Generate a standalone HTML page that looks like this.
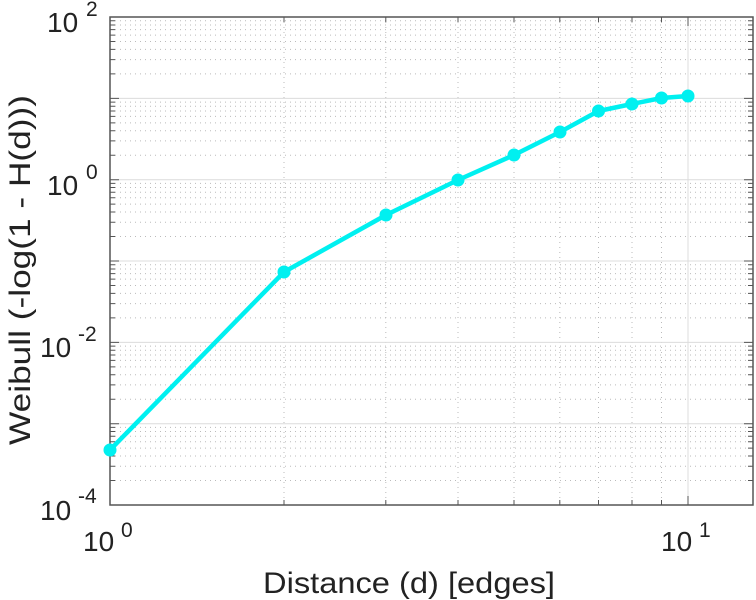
<!DOCTYPE html>
<html><head><style>body{margin:0;background:#fff}svg{display:block}</style></head><body>
<svg width="756" height="600" xmlns="http://www.w3.org/2000/svg" xmlns:xlink="http://www.w3.org/1999/xlink" font-family="Liberation Sans, sans-serif">
<rect width="756" height="600" fill="#fff"/>
<defs>
<g id="yd">
<path d="M110 -24.48H753M110 -38.8H753M110 -48.97H753M110 -56.85H753M110 -63.29H753M110 -68.73H753M110 -73.45H753M110 -77.61H753" stroke="#bbb" stroke-width="1" stroke-dasharray="1,4" fill="none"/>
<path d="M110 -24.48h5M110 -38.8h5M110 -48.97h5M110 -56.85h5M110 -63.29h5M110 -68.73h5M110 -73.45h5M110 -77.61h5M753 -24.48h-5M753 -38.8h-5M753 -48.97h-5M753 -56.85h-5M753 -63.29h-5M753 -68.73h-5M753 -73.45h-5M753 -77.61h-5" stroke="#555" stroke-width="1" fill="none"/>
</g>
</defs>
<use xlink:href="#yd" transform="translate(0,505)"/>
<use xlink:href="#yd" transform="translate(0,423.7)"/>
<use xlink:href="#yd" transform="translate(0,342.4)"/>
<use xlink:href="#yd" transform="translate(0,261)"/>
<use xlink:href="#yd" transform="translate(0,179.7)"/>
<use xlink:href="#yd" transform="translate(0,98.4)"/>
<path d="M284 17V505M385.8 17V505M458 17V505M514 17V505M559.8 17V505M598.5 17V505M632 17V505M661.5 17V505" stroke="#bbb" stroke-width="1" stroke-dasharray="1,4" fill="none"/>
<path d="M110 423.7H753M110 342.4H753M110 261H753M110 179.7H753M110 98.4H753M688 17V505" stroke="#dcdcdc" stroke-width="1" fill="none"/>
<path d="M284 505v-5M385.8 505v-5M458 505v-5M514 505v-5M559.8 505v-5M598.5 505v-5M632 505v-5M661.5 505v-5M688 505v-9M284 17v5M385.8 17v5M458 17v5M514 17v5M559.8 17v5M598.5 17v5M632 17v5M661.5 17v5M688 17v9M110 423.7h9M110 342.4h9M110 261h9M110 179.7h9M110 98.4h9M753 423.7h-9M753 342.4h-9M753 261h-9M753 179.7h-9M753 98.4h-9" stroke="#555" stroke-width="1" fill="none"/>
<rect x="110" y="17" width="643" height="488" fill="none" stroke="#555" stroke-width="1.5"/>
<polyline fill="none" stroke="#00f0f0" stroke-width="4.5" stroke-linejoin="round" points="110,450 284,272 386,215 458,180 514,155 560,132 598.5,111 632,104 661.5,98 688,96"/>
<g fill="#00f0f0" stroke="#00f0f0" stroke-width="3">
<circle cx="110" cy="450" r="5"/><circle cx="284" cy="272" r="5"/><circle cx="386" cy="215" r="5"/><circle cx="458" cy="180" r="5"/><circle cx="514" cy="155" r="5"/><circle cx="560" cy="132" r="5"/><circle cx="598.5" cy="111" r="5"/><circle cx="632" cy="104" r="5"/><circle cx="661.5" cy="98" r="5"/><circle cx="688" cy="96" r="5"/>
</g>
<g fill="#222" font-size="28">
<text x="47" y="32">10</text><text x="86" y="16" font-size="21">2</text>
<text x="47" y="195">10</text><text x="86" y="179" font-size="21">0</text>
<text x="40" y="357">10</text><text x="78" y="341" font-size="21">-2</text>
<text x="40" y="520">10</text><text x="78" y="503" font-size="21">-4</text>
<text x="83" y="551">10</text><text x="121" y="537" font-size="21">0</text>
<text x="661" y="551">10</text><text x="699" y="537" font-size="21">1</text>
<text x="263" y="593" font-size="30" textLength="292" lengthAdjust="spacingAndGlyphs">Distance (d) [edges]</text>
<text transform="translate(30,270) rotate(-90)" text-anchor="middle" font-size="30" textLength="350" lengthAdjust="spacingAndGlyphs">Weibull (-log(1 - H(d)))</text>
</g>
</svg>
</body></html>
